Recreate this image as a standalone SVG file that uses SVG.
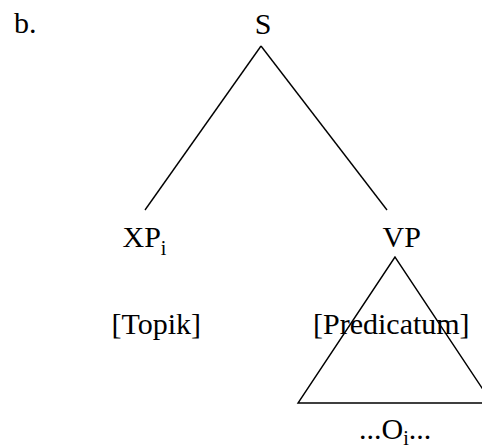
<svg xmlns="http://www.w3.org/2000/svg" width="482" height="448" viewBox="0 0 482 448">
<style>
text{font-family:"Liberation Serif","Times New Roman",serif;font-size:30px;fill:#000}
.sub{font-size:20px}
.ln{stroke:#000;stroke-width:1.4;fill:none}
</style>
<rect width="482" height="448" fill="#fff"/>
<text id="label" x="14" y="33">b.</text>
<g id="connectors">
<line class="ln" x1="261" y1="46" x2="145" y2="210"/>
<line class="ln" x1="261" y1="46" x2="387" y2="210"/>
</g>
<g id="S"><text x="263" y="34" text-anchor="middle">S</text></g>
<g id="XP"><text x="122.5" y="247">XP<tspan class="sub" dy="8">i</tspan></text></g>
<g id="VP"><text x="382.5" y="247">VP</text></g>
<g id="topik"><text x="111.5" y="334">[Topik]</text></g>
<g id="predicatum"><text x="313" y="334">[Predicatum]</text></g>
<g id="triangle"><polygon class="ln" points="395,257 298,403 492,403"/></g>
<g id="O"><text x="359" y="439">...O<tspan class="sub" dy="6">i</tspan><tspan dy="-6">...</tspan></text></g>
</svg>
